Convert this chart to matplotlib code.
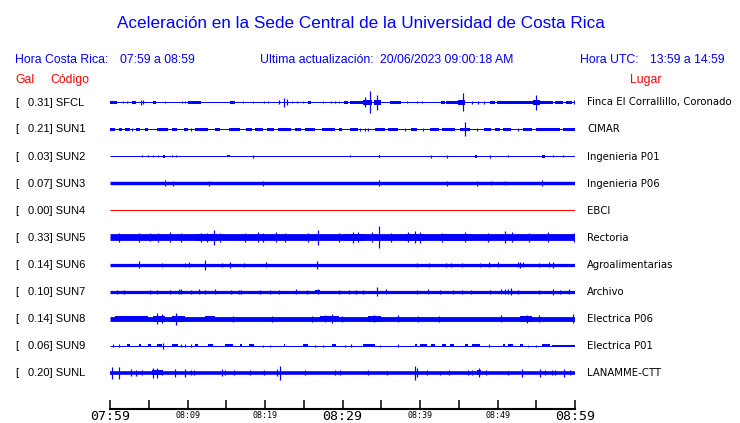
import matplotlib
matplotlib.use("Agg")
import matplotlib.pyplot as plt

# ---------------- data ----------------
title = "Aceleración en la Sede Central de la Universidad de Costa Rica"
hora_cr = "07:59 a 08:59"
ultima = "20/06/2023 09:00:18 AM"
hora_utc = "13:59 a 14:59"

codes = ["SFCL", "SUN1", "SUN2", "SUN3", "SUN4", "SUN5", "SUN6", "SUN7", "SUN8", "SUN9", "SUNL"]
gal = [0.31, 0.21, 0.03, 0.07, 0.00, 0.33, 0.14, 0.10, 0.14, 0.06, 0.20]
places = ["Finca El Corrallillo, Coronado", "CIMAR", "Ingenieria P01", "Ingenieria P06", "EBCI",
          "Rectoria", "Agroalimentarias", "Archivo", "Electrica P06", "Electrica P01", "LANAMME-CTT"]

# baseline half-amplitude of each trace (pixels)
base_amp = [0.5, 0.5, 0.5, 1.7, 0.5, 3.4, 1.6, 1.6, 2.4, 0.5, 1.8]

# bursts: (start minute, end minute, half amplitude px)
bursts = {
    "SFCL": [(0.0, 0.9, 1.1), (2.8, 3.3, 1.1), (5.6, 5.9, 1.1), (10.1, 11.7, 1.1), (15.5, 16.1, 1.1),
             (25.6, 26.0, 1.5), (30.2, 30.7, 1.1), (31.0, 32.7, 1.1), (32.7, 33.8, 2.2), (34.0, 35.0, 2.2),
             (36.1, 37.6, 1.1), (42.7, 43.2, 1.1), (43.4, 44.9, 1.1), (44.9, 45.8, 2.2), (49.0, 49.7, 1.8),
             (49.9, 54.6, 1.1), (54.6, 55.5, 2.2), (55.5, 57.2, 1.1), (57.4, 58.5, 1.1), (58.9, 59.6, 1.1)],
    "SUN1": [(0.0, 0.6, 1.1), (1.1, 1.5, 1.8), (1.9, 2.6, 1.1), (3.4, 3.9, 1.1), (4.5, 4.9, 1.1),
             (6.0, 7.5, 1.5), (8.0, 8.6, 1.5), (9.5, 10.1, 1.1), (11.0, 12.6, 1.1), (13.5, 14.2, 1.1),
             (15.3, 16.8, 1.5), (17.6, 18.3, 1.1), (18.7, 19.8, 1.5), (20.2, 21.1, 1.1), (21.7, 23.4, 1.1),
             (23.9, 24.7, 1.1), (25.2, 26.4, 1.5), (27.3, 29.0, 1.1), (29.5, 29.9, 1.1), (31.0, 32.0, 1.1),
             (34.2, 35.5, 1.5), (35.9, 37.2, 1.1), (38.9, 39.6, 1.1), (41.3, 42.4, 1.1), (42.8, 44.5, 1.1),
             (45.2, 46.4, 1.5), (48.2, 49.2, 1.1), (49.7, 50.3, 1.1), (50.7, 51.8, 1.1), (53.3, 54.4, 1.1),
             (55.0, 58.1, 1.1), (58.5, 60.0, 1.1)],
    "SUN2": [(6.9, 7.1, 1.5), (15.1, 15.5, 1.0), (34.7, 34.9, 1.5), (47.1, 47.4, 1.5), (55.8, 56.1, 1.5)],
    "SUN3": [],
    "SUN4": [],
    "SUN5": [(11.0, 13.8, 3.8), (30.3, 32.9, 3.8), (38.1, 40.6, 3.8), (42.4, 46.7, 3.8)],
    "SUN6": [],
    "SUN7": [(26.5, 27.1, 2.0)],
    "SUN8": [(0.6, 4.9, 2.6), (5.6, 7.1, 3.0), (8.0, 9.7, 3.0), (12.3, 13.5, 2.8), (27.1, 29.5, 2.8),
             (33.3, 35.0, 3.0), (52.9, 54.4, 3.0)],
    "SUN9": [(2.2, 2.6, 1.1), (3.7, 4.0, 1.1), (4.9, 5.3, 1.1), (6.0, 6.7, 1.1), (8.0, 8.8, 1.1),
             (11.0, 11.4, 1.1), (12.7, 13.3, 1.1), (14.9, 15.9, 1.5), (16.8, 17.0, 1.1), (17.9, 18.6, 1.1),
             (22.4, 22.6, 1.1), (24.9, 25.5, 1.1), (28.7, 29.2, 1.1), (32.6, 34.2, 1.1), (39.3, 39.6, 1.1),
             (40.0, 40.9, 1.1), (41.4, 41.9, 1.1), (42.9, 43.4, 1.5), (43.9, 44.4, 1.1), (45.8, 46.2, 1.1),
             (46.7, 47.7, 1.1), (50.7, 51.0, 1.1), (51.4, 52.0, 1.1), (52.9, 53.3, 1.1), (55.7, 56.8, 1.1),
             (57.0, 60.0, 1.0)],
    "SUNL": [(5.4, 6.9, 2.6), (47.3, 47.9, 2.6)],
}

# spikes: (minute, half amplitude px)
spikes = {
    "SFCL": [(1.7, 1), (2.2, 1), (4.0, 2.5), (4.2, 2), (7.1, 1), (9.3, 1), (9.7, 1), (17.1, 1), (18.5, 1),
             (19.9, 1), (20.4, 1), (21.8, 2), (22.5, 4.5), (22.8, 3), (23.5, 1), (24.1, 1), (24.9, 1),
             (27.5, 1), (28.5, 1), (29.0, 1), (29.5, 1), (32.9, 5), (33.5, 11), (34.4, 7.5), (38.3, 1),
             (39.6, 1), (40.2, 1), (45.5, 9), (46.7, 1.5), (47.5, 1.5), (48.3, 1.5), (55.0, 7.5), (59.9, 2)],
    "SUN1": [(2.8, 1.5), (10.4, 1.5), (32.3, 1.5), (32.9, 1.5), (33.3, 1.5), (38.1, 1.5), (40.4, 1.5),
             (45.8, 7), (47.3, 1.5), (52.7, 1.5)],
    "SUN2": [(4.1, 1), (4.9, 1), (5.6, 1), (6.2, 1), (8.0, 1), (8.5, 1), (18.4, 1.5), (31.0, 1),
             (41.4, 1.5), (43.5, 1.5), (49.0, 1.5), (51.3, 1), (57.2, 1), (58.4, 1)],
    "SUN3": [(7.1, 3), (8.1, 2.5), (12.8, 2.5), (19.7, 2.5), (34.7, 3), (43.5, 2.5), (47.3, 2.5),
             (49.2, 2), (51.0, 2), (55.8, 3)],
    "SUN4": [],
    "SUN5": [(1.1, 4.5), (3.7, 4.5), (5.2, 4), (6.2, 4.5), (7.7, 5), (9.2, 4.5), (11.8, 4.5), (12.5, 4.5),
             (13.4, 7), (14.2, 4.5), (17.4, 4.5), (19.1, 5), (19.8, 4.5), (21.4, 5), (22.6, 4.5),
             (25.6, 4.5), (26.9, 7), (29.5, 4.5), (31.3, 5.5), (32.0, 5), (33.8, 5), (34.7, 11),
             (36.3, 4.5), (38.5, 5), (39.4, 6), (40.0, 5.5), (42.8, 4.5), (45.8, 5), (48.8, 4.5),
             (51.0, 6), (51.9, 5), (54.0, 4.5), (56.5, 5), (59.9, 4.5)],
    "SUN6": [(3.7, 3.5), (6.7, 2), (9.7, 2), (10.2, 2.5), (12.2, 5), (14.5, 2), (15.5, 3), (17.3, 2),
             (20.1, 2.5), (26.7, 4), (39.6, 2), (41.2, 2), (43.4, 2), (44.0, 2), (45.4, 2), (47.7, 2),
             (48.9, 2.5), (50.0, 2.5), (52.6, 2.5), (52.9, 3), (53.3, 2.5), (55.3, 2), (56.6, 2.5),
             (57.2, 3)],
    "SUN7": [(0.9, 2), (1.8, 2), (5.1, 2), (6.0, 2), (7.8, 2), (8.9, 2.5), (9.2, 2.5), (10.5, 2),
             (11.5, 2.5), (12.3, 2), (13.5, 2.5), (15.6, 2), (16.6, 2), (16.9, 2), (19.4, 2), (20.6, 2),
             (21.8, 2), (24.0, 2.5), (25.4, 2), (26.9, 2.5), (29.5, 2), (30.8, 2), (31.8, 2), (32.6, 2),
             (34.5, 4.5), (35.6, 2.5), (39.6, 2), (41.0, 2.5), (42.6, 2), (44.2, 2), (45.4, 2),
             (46.6, 2), (49.0, 2), (50.5, 2.5), (51.0, 2.5), (51.4, 2.5), (51.7, 3.5), (52.7, 2),
             (55.3, 2), (57.1, 3), (58.1, 2), (59.2, 2.5)],
    "SUN8": [(6.0, 5.5), (6.7, 4.5), (8.5, 6), (15.9, 3), (20.9, 3), (26.0, 3), (27.7, 3.5), (28.7, 4.5),
             (29.9, 3), (34.0, 3.5), (37.1, 3.5), (39.8, 3), (42.4, 3), (50.5, 3.5), (53.8, 4),
             (55.3, 3.5), (59.8, 4.5)],
    "SUN9": [(0.4, 1.5), (1.1, 1.5), (6.9, 3), (9.2, 1.5), (9.7, 1.5), (10.4, 1.5), (19.7, 1),
             (20.6, 1), (26.4, 1), (27.5, 1), (30.3, 1), (31.1, 1.5), (34.8, 1), (37.1, 1.5),
             (48.9, 1.5), (53.9, 1), (55.0, 1)],
    "SUNL": [(0.3, 6), (1.1, 6), (2.7, 3.5), (3.4, 3), (4.1, 2.5), (5.5, 5), (6.1, 5), (6.7, 2.5),
             (8.4, 4), (9.7, 4), (10.4, 2.5), (10.9, 2.5), (14.5, 3.5), (14.8, 2.5), (16.0, 2.5),
             (18.0, 2.5), (19.9, 2.5), (21.6, 3.5), (21.9, 7), (25.2, 2.5), (29.0, 2.5), (29.7, 2.5),
             (33.3, 2.5), (35.7, 2), (39.3, 7), (39.6, 4.5), (40.9, 2.5), (42.6, 2), (43.8, 2.5),
             (46.2, 2.5), (46.7, 2.5), (47.6, 4.5), (48.5, 2.5), (51.4, 2), (53.1, 4), (55.5, 4),
             (56.1, 2.5), (57.0, 2.5), (57.4, 2.5), (58.6, 4), (59.3, 2.5)],
}

trace_colors = ["#0000ff"] * 4 + ["#ff0000"] + ["#0000ff"] * 6

tick_minutes = list(range(0, 61, 5))
tick_labels = ["07:59", "", "08:09", "", "08:19", "", "08:29", "", "08:39", "", "08:49", "", "08:59"]
major_ticks = {0: "07:59", 30: "08:29", 60: "08:59"}

# ---------------- figure ----------------
W, H, DPI = 740, 423, 100
fig = plt.figure(figsize=(W / DPI, H / DPI), dpi=DPI)
fig.patch.set_facecolor("white")

def fx(px):
    return px / W

def fy(py):
    return 1 - py / H

ROW0, ROWSTEP = 102.5, 27.0
ax_top, ax_bot = 89.0, 409.0
ax = fig.add_axes([fx(110), fy(ax_bot), fx(575) - fx(110), (ax_bot - ax_top) / H])
ax.set_xlim(0, 60)
ax.set_ylim((ax_bot - ROW0) / ROWSTEP, (ax_top - ROW0) / ROWSTEP)
ax.set_facecolor("none")
PX = 1.0 / ROWSTEP          # one pixel in data units (y)
PT = 72.0 / DPI             # one pixel in points

for i, code in enumerate(codes):
    c = trace_colors[i]
    b = base_amp[i]
    ax.hlines(i, 0, 60, colors=c, linewidth=max(2 * b, 1) * PT)
    for (t0, t1, a) in bursts[code]:
        ax.bar(t0, 2 * a * PX, width=t1 - t0, bottom=i - a * PX, align="edge",
               color=c, linewidth=0)
    if spikes[code]:
        ts = [s[0] for s in spikes[code]]
        lo = [i - s[1] * PX for s in spikes[code]]
        hi = [i + s[1] * PX for s in spikes[code]]
        ax.vlines(ts, lo, hi, colors=c, linewidth=1.2 * PT)

for s in ["top", "left", "right"]:
    ax.spines[s].set_visible(False)
ax.spines["bottom"].set_linewidth(1.5)
ax.set_yticks([])
ax.set_xticks(tick_minutes)
ax.set_xticklabels([])
ax.tick_params(axis="x", direction="in", length=6.5, width=1.1, color="black")

for m, lab in zip(tick_minutes, tick_labels):
    if m in major_ticks:
        ax.text(m, (ax_bot + 7.5 - ROW0) / ROWSTEP, major_ticks[m], ha="center", va="center",
                fontsize=9.5, family="DejaVu Sans Mono", color="black")
    elif lab:
        ax.text(m, (ax_bot + 6 - ROW0) / ROWSTEP, lab, ha="center", va="center",
                fontsize=6, family="DejaVu Sans Mono", color="black")

# ---------------- texts ----------------
blue = "#0000ff"
red = "#ff0000"
sans = "Liberation Sans"
fig.text(fx(361), fy(23), title, ha="center", va="center", color=blue, fontsize=12.3, family=sans)

hy = fy(60)
fs_h = 8.8
fig.text(fx(15), hy, "Hora Costa Rica:", ha="left", va="center", color=blue, fontsize=fs_h, family=sans)
fig.text(fx(120), hy, hora_cr, ha="left", va="center", color=blue, fontsize=fs_h, family=sans)
fig.text(fx(260), hy, "Ultima actualización:", ha="left", va="center", color=blue, fontsize=fs_h, family=sans)
fig.text(fx(380), hy, ultima, ha="left", va="center", color=blue, fontsize=fs_h, family=sans)
fig.text(fx(580), hy, "Hora UTC:", ha="left", va="center", color=blue, fontsize=fs_h, family=sans)
fig.text(fx(650), hy, hora_utc, ha="left", va="center", color=blue, fontsize=fs_h, family=sans)

ry = fy(80)
fig.text(fx(15), ry, "Gal", ha="left", va="center", color=red, fontsize=fs_h, family=sans)
fig.text(fx(50), ry, "Código", ha="left", va="center", color=red, fontsize=fs_h, family=sans)
fig.text(fx(630), ry, "Lugar", ha="left", va="center", color=red, fontsize=fs_h, family=sans)

for i, code in enumerate(codes):
    y = fy(ROW0 + i * ROWSTEP)
    fig.text(fx(15), y, "[", ha="left", va="center", color="black", fontsize=8, family=sans)
    fig.text(fx(28), y, f"{gal[i]:.2f}] {code}", ha="left", va="center", color="black",
             fontsize=8, family=sans)
    fig.text(fx(587), y, places[i], ha="left", va="center", color="black", fontsize=7.3,
             family="DejaVu Sans")

fig.savefig("out.png", dpi=DPI, facecolor="white")
